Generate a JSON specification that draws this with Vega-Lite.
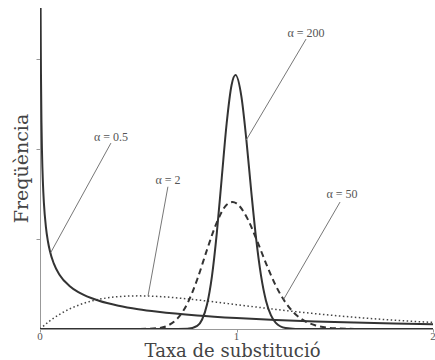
{
  "$schema": "https://vega.github.io/schema/vega-lite/v6.json",
  "width": 393,
  "height": 321,
  "autosize": {"type": "none"},
  "padding": {"left": 40, "top": 8, "right": 2, "bottom": 31},
  "background": "white",
  "config": {"view": {"stroke": null}, "axis": {"grid": false}},
  "datasets": {
    "curves": [
      {"alpha": "0.5", "x": 0.0025, "f": 7.97},
      {"alpha": "0.5", "x": 0.0032, "f": 7.04},
      {"alpha": "0.5", "x": 0.004, "f": 6.29},
      {"alpha": "0.5", "x": 0.005, "f": 5.63},
      {"alpha": "0.5", "x": 0.0075, "f": 4.59},
      {"alpha": "0.5", "x": 0.01, "f": 3.97},
      {"alpha": "0.5", "x": 0.015, "f": 3.23},
      {"alpha": "0.5", "x": 0.02, "f": 2.79},
      {"alpha": "0.5", "x": 0.03, "f": 2.27},
      {"alpha": "0.5", "x": 0.04, "f": 1.955},
      {"alpha": "0.5", "x": 0.05, "f": 1.74},
      {"alpha": "0.5", "x": 0.07, "f": 1.456},
      {"alpha": "0.5", "x": 0.1, "f": 1.2},
      {"alpha": "0.5", "x": 0.15, "f": 0.956},
      {"alpha": "0.5", "x": 0.2, "f": 0.807},
      {"alpha": "0.5", "x": 0.3, "f": 0.627},
      {"alpha": "0.5", "x": 0.4, "f": 0.516},
      {"alpha": "0.5", "x": 0.5, "f": 0.439},
      {"alpha": "0.5", "x": 0.6, "f": 0.382},
      {"alpha": "0.5", "x": 0.8, "f": 0.299},
      {"alpha": "0.5", "x": 1.0, "f": 0.242},
      {"alpha": "0.5", "x": 1.2, "f": 0.2},
      {"alpha": "0.5", "x": 1.4, "f": 0.167},
      {"alpha": "0.5", "x": 1.6, "f": 0.142},
      {"alpha": "0.5", "x": 1.8, "f": 0.121},
      {"alpha": "0.5", "x": 2.0, "f": 0.104},
      {"alpha": "2", "x": 0, "f": 0},
      {"alpha": "2", "x": 0.05, "f": 0.181},
      {"alpha": "2", "x": 0.1, "f": 0.327},
      {"alpha": "2", "x": 0.15, "f": 0.444},
      {"alpha": "2", "x": 0.2, "f": 0.536},
      {"alpha": "2", "x": 0.3, "f": 0.659},
      {"alpha": "2", "x": 0.4, "f": 0.719},
      {"alpha": "2", "x": 0.5, "f": 0.736},
      {"alpha": "2", "x": 0.6, "f": 0.723},
      {"alpha": "2", "x": 0.7, "f": 0.69},
      {"alpha": "2", "x": 0.8, "f": 0.646},
      {"alpha": "2", "x": 0.9, "f": 0.595},
      {"alpha": "2", "x": 1.0, "f": 0.541},
      {"alpha": "2", "x": 1.1, "f": 0.488},
      {"alpha": "2", "x": 1.2, "f": 0.435},
      {"alpha": "2", "x": 1.3, "f": 0.386},
      {"alpha": "2", "x": 1.4, "f": 0.341},
      {"alpha": "2", "x": 1.5, "f": 0.299},
      {"alpha": "2", "x": 1.6, "f": 0.261},
      {"alpha": "2", "x": 1.7, "f": 0.227},
      {"alpha": "2", "x": 1.8, "f": 0.197},
      {"alpha": "2", "x": 1.9, "f": 0.17},
      {"alpha": "2", "x": 2.0, "f": 0.147},
      {"alpha": "50", "x": 0, "f": 0},
      {"alpha": "50", "x": 0.4, "f": 0},
      {"alpha": "50", "x": 0.5, "f": 0.0004},
      {"alpha": "50", "x": 0.6, "f": 0.018},
      {"alpha": "50", "x": 0.65, "f": 0.076},
      {"alpha": "50", "x": 0.7, "f": 0.235},
      {"alpha": "50", "x": 0.75, "f": 0.566},
      {"alpha": "50", "x": 0.8, "f": 1.1},
      {"alpha": "50", "x": 0.85, "f": 1.76},
      {"alpha": "50", "x": 0.9, "f": 2.37},
      {"alpha": "50", "x": 0.95, "f": 2.76},
      {"alpha": "50", "x": 0.98, "f": 2.82},
      {"alpha": "50", "x": 1.0, "f": 2.79},
      {"alpha": "50", "x": 1.05, "f": 2.5},
      {"alpha": "50", "x": 1.1, "f": 2.01},
      {"alpha": "50", "x": 1.15, "f": 1.46},
      {"alpha": "50", "x": 1.2, "f": 0.962},
      {"alpha": "50", "x": 1.25, "f": 0.584},
      {"alpha": "50", "x": 1.3, "f": 0.328},
      {"alpha": "50", "x": 1.35, "f": 0.171},
      {"alpha": "50", "x": 1.4, "f": 0.083},
      {"alpha": "50", "x": 1.5, "f": 0.0165},
      {"alpha": "50", "x": 1.6, "f": 0.0026},
      {"alpha": "50", "x": 1.7, "f": 0.0003},
      {"alpha": "50", "x": 2.0, "f": 0},
      {"alpha": "200", "x": 0, "f": 0},
      {"alpha": "200", "x": 0.5, "f": 0},
      {"alpha": "200", "x": 0.7, "f": 0.0002},
      {"alpha": "200", "x": 0.75, "f": 0.004},
      {"alpha": "200", "x": 0.8, "f": 0.068},
      {"alpha": "200", "x": 0.825, "f": 0.211},
      {"alpha": "200", "x": 0.85, "f": 0.543},
      {"alpha": "200", "x": 0.875, "f": 1.17},
      {"alpha": "200", "x": 0.9, "f": 2.14},
      {"alpha": "200", "x": 0.925, "f": 3.36},
      {"alpha": "200", "x": 0.95, "f": 4.57},
      {"alpha": "200", "x": 0.975, "f": 5.42},
      {"alpha": "200", "x": 0.995, "f": 5.64},
      {"alpha": "200", "x": 1.025, "f": 5.16},
      {"alpha": "200", "x": 1.05, "f": 4.21},
      {"alpha": "200", "x": 1.075, "f": 3.06},
      {"alpha": "200", "x": 1.1, "f": 2.0},
      {"alpha": "200", "x": 1.125, "f": 1.18},
      {"alpha": "200", "x": 1.15, "f": 0.63},
      {"alpha": "200", "x": 1.175, "f": 0.31},
      {"alpha": "200", "x": 1.2, "f": 0.137},
      {"alpha": "200", "x": 1.25, "f": 0.021},
      {"alpha": "200", "x": 1.3, "f": 0.002},
      {"alpha": "200", "x": 1.4, "f": 0},
      {"alpha": "200", "x": 2.0, "f": 0}
    ],
    "leaders": [
      {"x": 0.361, "f": 4.13, "x2": 0.055, "f2": 1.7},
      {"x": 0.651, "f": 3.16, "x2": 0.55, "f2": 0.74},
      {"x": 1.527, "f": 2.82, "x2": 1.24, "f2": 0.66},
      {"x": 1.354, "f": 6.44, "x2": 1.05, "f2": 4.2}
    ],
    "labels": [
      {"x": 0.361, "f": 4.18, "label": "α = 0.5"},
      {"x": 0.651, "f": 3.22, "label": "α = 2"},
      {"x": 1.537, "f": 2.91, "label": "α = 50"},
      {"x": 1.354, "f": 6.49, "label": "α = 200"}
    ],
    "ticklabels": [
      {"x": 0, "f": 0, "label": "0"},
      {"x": 1, "f": 0, "label": "1"},
      {"x": 2, "f": 0, "label": "2"}
    ]
  },
  "encoding": {
    "x": {
      "field": "x",
      "type": "quantitative",
      "scale": {"domain": [0, 2], "nice": false, "zero": false},
      "axis": {
        "values": [0, 1, 2],
        "labels": false,
        "title": "Taxa de substitució",
        "titleFont": "DejaVu Serif",
        "titleFontSize": 18,
        "titleFontWeight": "normal",
        "titleColor": "#444",
        "titleX": 192,
        "titleY": 27,
        "titleAlign": "center",
        "titleBaseline": "alphabetic",
        "domainColor": "#999",
        "domainWidth": 1,
        "tickColor": "#999",
        "tickSize": 3
      }
    },
    "y": {
      "field": "f",
      "type": "quantitative",
      "scale": {"domain": [0, 7.13], "nice": false},
      "axis": {
        "values": [2, 4, 6],
        "labels": false,
        "title": "Freqüència",
        "titleFont": "DejaVu Serif",
        "titleFontSize": 19,
        "titleFontWeight": "normal",
        "titleColor": "#444",
        "titleAngle": -90,
        "titleX": -13,
        "titleY": 160,
        "titleAlign": "center",
        "titleBaseline": "alphabetic",
        "domainColor": "#999",
        "domainWidth": 1,
        "tickColor": "#999",
        "tickSize": 4
      }
    }
  },
  "layer": [
    {
      "data": {"name": "curves"},
      "transform": [{"filter": "datum.alpha == '2'"}],
      "mark": {"type": "line", "interpolate": "monotone", "clip": true, "color": "#444", "strokeWidth": 1.5, "strokeDash": [1.5, 2.5]}
    },
    {
      "data": {"name": "curves"},
      "transform": [{"filter": "datum.alpha == '50'"}],
      "mark": {"type": "line", "interpolate": "monotone", "clip": true, "color": "#333", "strokeWidth": 2, "strokeDash": [6, 4]}
    },
    {
      "data": {"name": "curves"},
      "transform": [{"filter": "datum.alpha == '200'"}],
      "mark": {"type": "line", "interpolate": "monotone", "clip": true, "color": "#333", "strokeWidth": 2}
    },
    {
      "data": {"name": "curves"},
      "transform": [{"filter": "datum.alpha == '0.5'"}],
      "mark": {"type": "line", "interpolate": "monotone", "clip": true, "color": "#333", "strokeWidth": 2}
    },
    {
      "data": {"name": "leaders"},
      "mark": {"type": "rule", "color": "#777", "strokeWidth": 1},
      "encoding": {
        "x2": {"field": "x2"},
        "y2": {"field": "f2"}
      }
    },
    {
      "data": {"name": "labels"},
      "mark": {"type": "text", "font": "Liberation Serif", "fontSize": 12, "color": "#555", "align": "center", "baseline": "alphabetic"},
      "encoding": {
        "text": {"field": "label"}
      }
    },
    {
      "data": {"name": "ticklabels"},
      "mark": {"type": "text", "font": "Liberation Serif", "fontSize": 11, "color": "#555", "align": "center", "baseline": "top", "dy": 2},
      "encoding": {
        "text": {"field": "label"}
      }
    }
  ]
}
